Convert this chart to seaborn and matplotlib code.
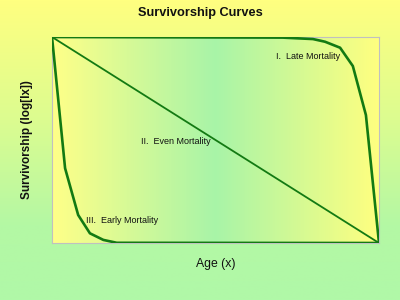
import numpy as np
import pandas as pd
import seaborn as sns
import matplotlib
matplotlib.use("Agg")
import matplotlib.pyplot as plt
from matplotlib.colors import LinearSegmentedColormap

# Data (age as % of max lifespan, log survivorship as % of max)
late_x = [0, 70.6, 79.8, 83.5, 88.1, 92.0, 96.0, 100]
late_y = [100, 99.7, 99.0, 97.7, 94.8, 85.9, 62.1, 0]
even_x = [0, 100]
even_y = [100, 0]
early_x = [0, 4.0, 8.0, 11.6, 15.7, 19.8, 100]
early_y = [100, 36.3, 13.6, 4.7, 1.5, 0.1, 0]

labels = ["I.  Late Mortality", "II.  Even Mortality", "III.  Early Mortality"]
label_pos = [(68.5, 90.5), (27.3, 49.5), (10.3, 11.0)]

sns.set_theme(style="white")
plt.rcParams['font.family'] = ['Liberation Sans', 'DejaVu Sans']

fig = plt.figure(figsize=(4, 3), dpi=100)

# Figure background gradient (vertical)
bg = fig.add_axes([0, 0, 1, 1], zorder=-10)
bg_cmap = LinearSegmentedColormap.from_list("bg", [(0, "#b0f8a8"), (0.25, "#b4f8a4"), (0.6, "#dcfc90"), (1, "#ffff80")])
bg.imshow(np.linspace(0, 1, 256).reshape(-1, 1), cmap=bg_cmap, aspect="auto",
          extent=[0, 1, 0, 1], origin="lower")
bg.axis("off")

ax = fig.add_axes([52/400, 1 - 243/300, 327/400, 206/300])
ax_cmap = LinearSegmentedColormap.from_list("ax", [(0, "#ffff88"), (0.5, "#a8f4a8"), (1, "#ffff80")])
ax.imshow(np.linspace(0, 1, 256).reshape(1, -1), cmap=ax_cmap, aspect="auto",
          extent=[0, 100, 0, 100], zorder=0)

line_color = "#137a13"
df_late = pd.DataFrame({"x": late_x, "y": late_y})
df_even = pd.DataFrame({"x": even_x, "y": even_y})
df_early = pd.DataFrame({"x": early_x, "y": early_y})
sns.lineplot(data=df_late, x="x", y="y", sort=False, ax=ax, color=line_color, lw=1.9, zorder=3)
sns.lineplot(data=df_even, x="x", y="y", sort=False, ax=ax, color=line_color, lw=1.3, zorder=3)
sns.lineplot(data=df_early, x="x", y="y", sort=False, ax=ax, color=line_color, lw=1.9, zorder=3)

for t, (x, y) in zip(labels, label_pos):
    ax.text(x, y, t, fontsize=6.5, color="#111111", va="center", ha="left", zorder=4)

ax.set_xlim(0, 100)
ax.set_ylim(0, 100)
ax.set_xticks([])
ax.set_yticks([])
for s in ax.spines.values():
    s.set_color("#c0c0c0")
    s.set_linewidth(0.8)
    s.set_visible(True)
ax.set_xlabel("Age (x)", fontsize=8.8, labelpad=11, color="#111111")
ax.set_ylabel("Survivorship (log[lx])", fontsize=8.5, fontweight="bold", labelpad=14, color="#111111")
fig.text(0.5, 1 - 13/300, "Survivorship Curves", ha="center", va="center",
         fontsize=9.2, fontweight="bold", color="#111111")

fig.savefig("out.png", dpi=100)
